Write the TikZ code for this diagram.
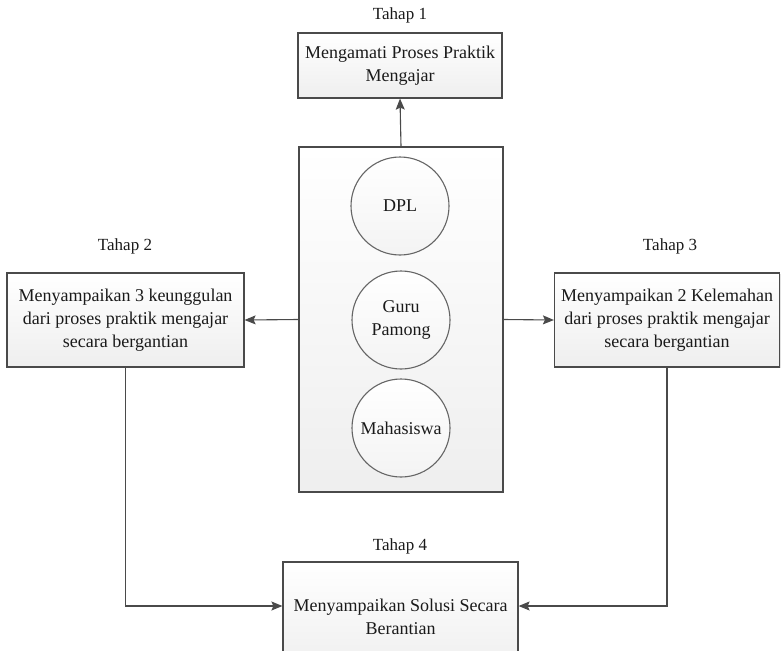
\documentclass[tikz,border=0pt]{standalone}
\usepackage{fontspec}
\setmainfont{Liberation Serif}
\usetikzlibrary{arrows.meta,shadows}
\definecolor{edge}{HTML}{4A4A4A}
\definecolor{ink}{HTML}{1A1A1A}
\begin{document}
\begin{tikzpicture}[x=1pt,y=-1pt,
  every node/.style={text=ink, font=\fontsize{18}{23}\selectfont},
  stepbox/.style={draw=edge, line width=1.2pt, rectangle, align=center,
    top color=white, bottom color=gray!13, inner sep=0pt,
    drop shadow={opacity=0.22, shadow xshift=1pt, shadow yshift=-1.2pt}},
  actor/.style={draw=edge!85, line width=1.1pt, circle, align=center,
    top color=white, bottom color=gray!9, inner sep=0pt, minimum size=98pt},
  label/.style={font=\fontsize{17}{20}\selectfont},
  flow/.style={draw=edge, line width=1.1pt,
    -{Stealth[length=11pt,width=9pt,inset=2pt]}}]
\useasboundingbox (0,0) rectangle (783,650);
\clip (0,0) rectangle (783,650);
\fill[white] (0,0) rectangle (783,650);

% stage boxes
\node[stepbox, minimum width=204pt, minimum height=65pt] (s1) at (400,65.5)
  {Mengamati Proses Praktik\\Mengajar};
\node[stepbox, minimum width=237pt, minimum height=94pt] (s2) at (125.5,320)
  {Menyampaikan 3 keunggulan\\dari proses praktik mengajar\\secara bergantian};
\node[stepbox, minimum width=225pt, minimum height=94pt] (s3) at (667,320)
  {Menyampaikan 2 Kelemahan\\dari proses praktik mengajar\\secara bergantian};
\node[stepbox, minimum width=235pt, minimum height=110pt] (s4) at (400.5,617)
  {Menyampaikan Solusi Secara\\Berantian};

% participants
\node[stepbox, minimum width=204pt, minimum height=345pt] (grp) at (401,319.5) {};
\node[actor] (dpl) at (400,206) {DPL};
\node[actor] (guru) at (401,320) {Guru\\Pamong};
\node[actor] (mhs) at (401,428) {Mahasiswa};

% stage titles
\node[label] (t1) at (400,15) {Tahap 1};
\node[label] (t2) at (125,246) {Tahap 2};
\node[label] (t3) at (670,246) {Tahap 3};
\node[label] (t4) at (400,546) {Tahap 4};

% connectors
\draw[flow] (grp.north) -- (s1.south);
\draw[flow] (grp.west) -- (s2.east);
\draw[flow] (grp.east) -- (s3.west);
\draw[flow] (s2.south) |- ([yshift=11pt]s4.west);
\draw[flow] (s3.south) |- ([yshift=11pt]s4.east);
\end{tikzpicture}
\end{document}
